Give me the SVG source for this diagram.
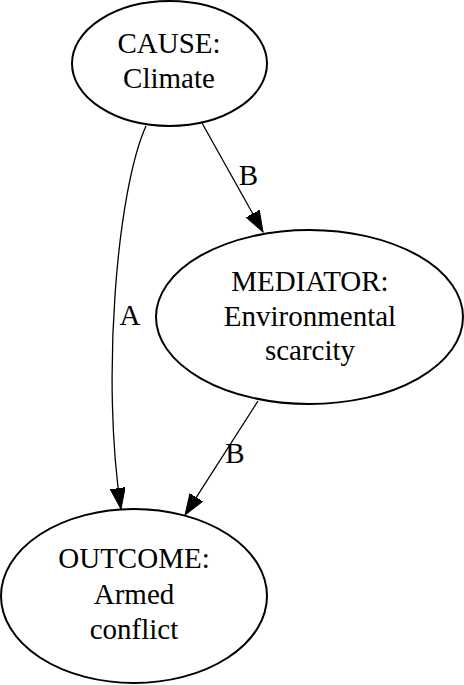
<svg xmlns="http://www.w3.org/2000/svg" width="464" height="685" viewBox="0 0 464 685">
<defs>
<style>
.node ellipse{fill:none;stroke:#000;stroke-width:2}
text{font-family:'Liberation Serif',serif;font-size:29px;fill:#000;text-anchor:middle}
.edge{fill:none;stroke:#000;stroke-width:1.3}
</style>
<marker id="ah" markerUnits="userSpaceOnUse" markerWidth="22" markerHeight="16" refX="21" refY="7.5" orient="auto" viewBox="0 0 22 16">
<path d="M0,0 L21,7.5 L0,15 z" fill="#000" stroke="#000" stroke-width="1"/>
</marker>
</defs>
<rect width="464" height="685" fill="#fff"/>
<g id="connectors" font-family="Liberation Serif, serif">
<path class="edge" d="M146,126 C117,190 101,380 121,509" marker-end="url(#ah)"/>
<text x="130" y="325">A</text>
<path class="edge" d="M202,123 L263,232" marker-end="url(#ah)"/>
<text x="248.5" y="185">B</text>
<path class="edge" d="M258,401 L185,515" marker-end="url(#ah)"/>
<text x="235" y="463">B</text>
</g>
<g id="cause" class="node" font-family="Liberation Serif, serif">
<ellipse cx="169.5" cy="63.5" rx="97.5" ry="62.5"/>
<text x="169" y="53">CAUSE:</text>
<text x="169" y="88">Climate</text>
</g>
<g id="mediator" class="node" font-family="Liberation Serif, serif">
<ellipse cx="309.5" cy="317" rx="153.5" ry="87"/>
<text x="310" y="291">MEDIATOR:</text>
<text x="310" y="326">Environmental</text>
<text x="310" y="360">scarcity</text>
</g>
<g id="outcome" class="node" font-family="Liberation Serif, serif">
<ellipse cx="134" cy="596" rx="133" ry="87"/>
<text x="134" y="568">OUTCOME:</text>
<text x="134" y="604">Armed</text>
<text x="134" y="639">conflict</text>
</g>
</svg>
